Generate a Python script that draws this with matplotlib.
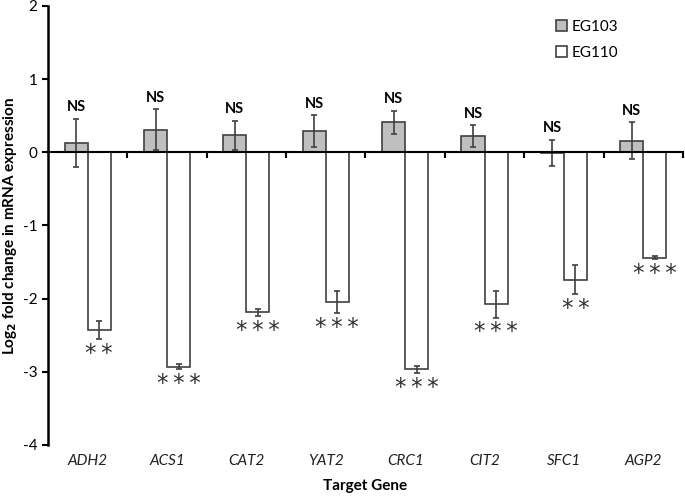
import matplotlib.pyplot as plt
import matplotlib.transforms as mtransforms
import numpy as np

plt.rcParams['font.family'] = ['Lato', 'DejaVu Sans']
plt.rcParams['axes.unicode_minus'] = False

genes = ["ADH2", "ACS1", "CAT2", "YAT2", "CRC1", "CIT2", "SFC1", "AGP2"]
eg103 = [0.13, 0.31, 0.23, 0.29, 0.41, 0.22, -0.01, 0.16]
eg103_err = [0.33, 0.28, 0.20, 0.22, 0.16, 0.15, 0.18, 0.25]
eg110 = [-2.43, -2.93, -2.19, -2.05, -2.97, -2.08, -1.74, -1.44]
eg110_err = [0.12, 0.03, 0.05, 0.15, 0.05, 0.18, 0.20, 0.02]
sig103 = ["NS"] * 8
sig110 = ["**", "***", "***", "***", "***", "***", "**", "***"]

fig = plt.figure(figsize=(6.85, 4.97), dpi=100)
ax = fig.add_axes([0.070, 0.105, 0.927, 0.883])

x = np.arange(len(genes))
w = 0.29
edge = "#404040"
ax.bar(x - w / 2, eg103, w, color="#bfbfbf", edgecolor=edge, linewidth=1.2,
       yerr=eg103_err, error_kw=dict(ecolor=edge, elinewidth=1.2, capsize=2.5, capthick=1.2),
       label="EG103", zorder=2)
ax.bar(x + w / 2, eg110, w, color="white", edgecolor=edge, linewidth=1.2,
       yerr=eg110_err, error_kw=dict(ecolor=edge, elinewidth=1.2, capsize=2.5, capthick=1.2),
       label="EG110", zorder=2)

# significance labels
for i in range(len(genes)):
    ax.text(x[i] - w / 2, eg103[i] + eg103_err[i] + 0.06, sig103[i],
            ha="center", va="bottom", fontsize=10.5, fontweight="bold")
    ax.text(x[i] + w / 2, eg110[i] - eg110_err[i] - 0.04, "\u2009".join(sig110[i]),
            ha="center", va="top", fontsize=16.5, family=["DejaVu Sans"], color="#303030")

ax.set_xlim(-0.5, len(genes) - 0.5)
ax.set_ylim(-4, 2)
ax.set_yticks(range(-4, 3))
ax.tick_params(axis="y", direction="out", length=4, width=1.5, labelsize=11)

ax.spines["top"].set_visible(False)
ax.spines["right"].set_visible(False)
ax.spines["left"].set_linewidth(1.8)
ax.spines["bottom"].set_position(("data", 0))
ax.spines["bottom"].set_linewidth(1.5)
ax.set_xticks(np.arange(len(genes)) + 0.5)
ax.set_xticklabels([])
ax.tick_params(axis="x", direction="out", length=4, width=1.5)

trans = mtransforms.blended_transform_factory(ax.transData, ax.transAxes)
for i, g in enumerate(genes):
    ax.text(x[i], -0.022, g, transform=trans, ha="center", va="top",
            fontsize=11, style="italic", color="#202020")

ax.set_ylabel("Log$_\\mathbf{2}$ fold change in mRNA expression", fontweight="bold", fontsize=11)
ax.yaxis.set_label_coords(-0.045, 0.5)
fig.text(0.533, 0.008, "Target Gene", ha="center", va="bottom", fontweight="bold", fontsize=11)

ax.legend(loc="upper right", bbox_to_anchor=(0.92, 1.0), frameon=False, fontsize=11,
          handlelength=0.7, handleheight=0.7, handletextpad=0.3, labelspacing=0.8)

fig.savefig("out.png", dpi=100)
